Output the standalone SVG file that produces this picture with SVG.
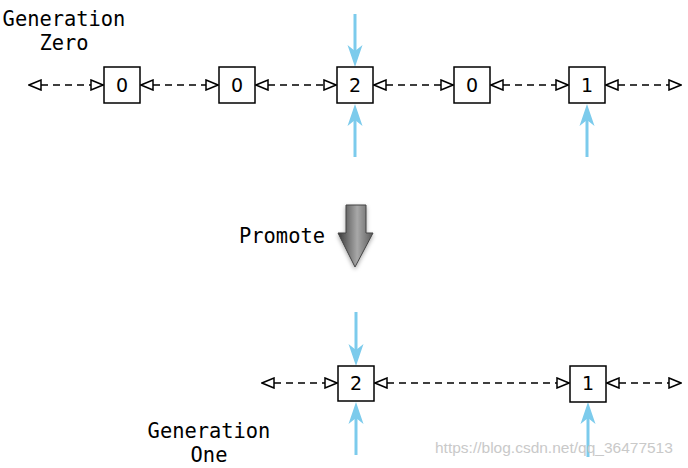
<svg xmlns="http://www.w3.org/2000/svg" width="688" height="468" viewBox="0 0 688 468">
<defs>
<style>
.box{fill:#fff;stroke:#000;stroke-width:1.5}
.num{font-family:"DejaVu Sans","Liberation Sans",sans-serif;font-size:19px;fill:#000;text-anchor:middle}
.lbl{font-family:"DejaVu Sans Mono","Liberation Mono",monospace;font-size:20.4px;fill:#000;text-anchor:middle}
.link{stroke:#000;stroke-width:1.5;stroke-dasharray:7 5;fill:none;marker-start:url(#tri);marker-end:url(#tri)}
.ptr{stroke:#7ccbec;stroke-width:3;fill:none}
.head{fill:#7ccbec}
.wm{font-family:"Liberation Sans",Arial,sans-serif;font-size:15.5px;fill:#c9c9c9}
</style>
<marker id="tri" viewBox="0 0 14 12" refX="13" refY="6" markerWidth="14" markerHeight="12" markerUnits="userSpaceOnUse" orient="auto-start-reverse">
<path d="M1,1 L13,6 L1,11 Z" fill="#fff" stroke="#000" stroke-width="1.5" stroke-linejoin="miter"/>
</marker>
<linearGradient id="g" x1="0" y1="0" x2="1" y2="0">
<stop offset="0" stop-color="#3a3a3a"/>
<stop offset="0.55" stop-color="#a8a8a8"/>
<stop offset="1" stop-color="#5a5a5a"/>
</linearGradient>
<filter id="sh" x="-40%" y="-20%" width="180%" height="150%">
<feDropShadow dx="0" dy="2" stdDeviation="2" flood-color="#000" flood-opacity="0.35"/>
</filter>
</defs>
<rect width="688" height="468" fill="#fff"/>

<g id="connectors">
<line class="link" x1="29" y1="85" x2="103" y2="85"/>
<line class="link" x1="141" y1="85" x2="218" y2="85"/>
<line class="link" x1="256" y1="85" x2="336" y2="85"/>
<line class="link" x1="374" y1="85" x2="453" y2="85"/>
<line class="link" x1="491" y1="85" x2="568" y2="85"/>
<line class="link" x1="606" y1="85" x2="681" y2="85"/>
<line class="link" x1="262" y1="383" x2="337" y2="383"/>
<line class="link" x1="375" y1="383" x2="569" y2="383"/>
<line class="link" x1="607" y1="383" x2="681" y2="383"/>
<!-- blue pointers -->
<line class="ptr" x1="355" y1="14" x2="355" y2="54"/>
<path class="head" d="M355,67 L347.5,45 L355,51 L362.5,45 Z"/>
<line class="ptr" x1="355" y1="157" x2="355" y2="117"/>
<path class="head" d="M355,104 L347.5,126 L355,120 L362.5,126 Z"/>
<line class="ptr" x1="587" y1="157" x2="587" y2="117"/>
<path class="head" d="M587,104 L579.5,126 L587,120 L594.5,126 Z"/>
<line class="ptr" x1="356" y1="312" x2="356" y2="353"/>
<path class="head" d="M356,366 L348.5,344 L356,350 L363.5,344 Z"/>
<line class="ptr" x1="356" y1="455" x2="356" y2="415"/>
<path class="head" d="M356,402 L348.5,424 L356,418 L363.5,424 Z"/>
<line class="ptr" x1="588" y1="457" x2="588" y2="415"/>
<path class="head" d="M588,402 L580.5,424 L588,418 L595.5,424 Z"/>
</g>

<g id="n0a"><rect class="box" x="104" y="67" width="36" height="36"/><text class="num" x="122" y="92">0</text></g>
<g id="n0b"><rect class="box" x="219" y="67" width="36" height="36"/><text class="num" x="237" y="92">0</text></g>
<g id="n2"><rect class="box" x="337" y="67" width="36" height="36"/><text class="num" x="355" y="92">2</text></g>
<g id="n0c"><rect class="box" x="454" y="67" width="36" height="36"/><text class="num" x="472" y="92">0</text></g>
<g id="n1"><rect class="box" x="569" y="67" width="36" height="36"/><text class="num" x="587" y="92">1</text></g>

<g id="m2"><rect class="box" x="338" y="366" width="36" height="35"/><text class="num" x="356" y="390">2</text></g>
<g id="m1"><rect class="box" x="570" y="366" width="36" height="36"/><text class="num" x="588" y="390">1</text></g>

<g id="gen0"><text class="lbl" x="64" y="26">Generation</text><text class="lbl" x="64" y="50">Zero</text></g>
<g id="gen1"><text class="lbl" x="209" y="438">Generation</text><text class="lbl" x="209" y="462">One</text></g>

<g id="promote">
<text class="lbl" x="282" y="243">Promote</text>
<path d="M346,205 L366,205 L366,233 L373,233 L355,267 L338,233 L346,233 Z" fill="url(#g)" stroke="#444" stroke-width="1" filter="url(#sh)"/>
</g>

<text class="wm" x="435" y="453">https://blog.csdn.net/qq_36477513</text>
</svg>
